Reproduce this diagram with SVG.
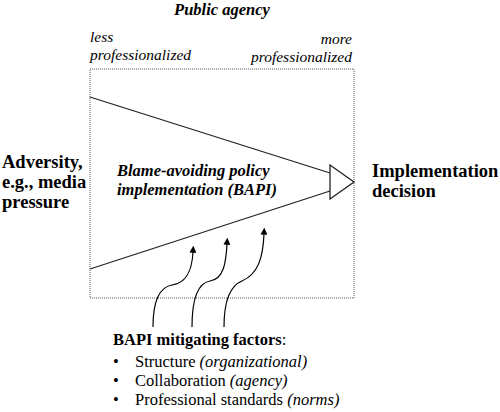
<svg xmlns="http://www.w3.org/2000/svg" width="500" height="412" viewBox="0 0 500 412">
<style>
text{font-family:"Liberation Serif","Times New Roman",serif;fill:#000}
.b{font-weight:bold}
.i{font-style:italic}
.sm{font-size:15.5px}
.big{font-size:18.5px}
.mid{font-size:16.5px}
.ln{stroke:#222;stroke-width:1.3;fill:none}
.cv{stroke:#000;stroke-width:1.2;fill:none}
</style>
<defs>
<marker id="ah" viewBox="0 0 10 10" refX="1" refY="5" markerWidth="7" markerHeight="7" markerUnits="userSpaceOnUse" orient="auto">
<path d="M0,0 L10,5 L0,10 Z" fill="#000"/>
</marker>
</defs>
<rect width="500" height="412" fill="#fff"/>
<g id="agency">
<rect x="90" y="69" width="264" height="229" fill="none" stroke="#555" stroke-width="1" stroke-dasharray="1,1"/>
<text class="b i mid" x="222" y="15" text-anchor="middle">Public agency</text>
<text class="i sm" x="90" y="42">less</text>
<text class="i sm" x="90" y="60">professionalized</text>
<text class="i sm" x="352" y="44" text-anchor="end">more</text>
<text class="i sm" x="352" y="62" text-anchor="end">professionalized</text>
</g>
<g id="bapi">
<line class="ln" x1="90" y1="97" x2="330" y2="173"/>
<line class="ln" x1="90" y1="269" x2="330" y2="191"/>
<polygon points="330,165 354,182 330,199" fill="#fff" stroke="#222" stroke-width="1.3"/>
<text class="b i mid" x="117" y="176">Blame-avoiding policy</text>
<text class="b i mid" x="117" y="195">implementation (BAPI)</text>
</g>
<g id="adversity">
<text class="b big" x="2" y="168">Adversity,</text>
<text class="b big" x="2" y="188">e.g., media</text>
<text class="b big" x="2" y="208">pressure</text>
</g>
<g id="decision">
<text class="b big" x="372" y="177">Implementation</text>
<text class="b big" x="372" y="197">decision</text>
</g>
<g id="factors">
<text class="mid" x="113" y="345"><tspan class="b">BAPI mitigating factors</tspan>:</text>
<text class="mid" x="113" y="367">•</text>
<text class="mid" x="135" y="367">Structure <tspan class="i">(organizational)</tspan></text>
<text class="mid" x="113" y="386">•</text>
<text class="mid" x="135" y="386">Collaboration <tspan class="i">(agency)</tspan></text>
<text class="mid" x="113" y="405">•</text>
<text class="mid" x="135" y="405">Professional standards <tspan class="i">(norms)</tspan></text>
</g>
<g id="connectors">
<path class="cv" d="M153,327 C153,300 160,287 172,285 C187,283 192,270 193,252" marker-end="url(#ah)"/>
<path class="cv" d="M192,327 C192,300 198,283 210,281 C224,279 226,262 227,244" marker-end="url(#ah)"/>
<path class="cv" d="M224,327 C224,298 232,285 242,281 C258,274 263,258 264,234" marker-end="url(#ah)"/>
</g>
</svg>
